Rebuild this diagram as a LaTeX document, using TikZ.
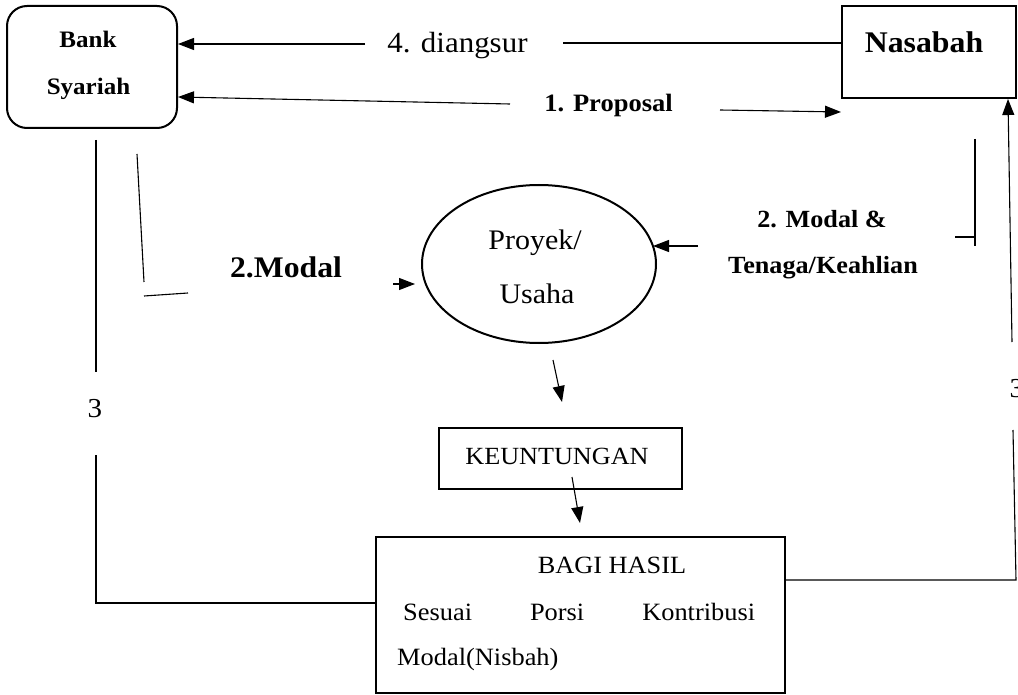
\documentclass[tikz,border=0pt]{standalone}
\usepackage{fontspec}
\setmainfont{Liberation Serif}[FakeStretch=1.06]
\usetikzlibrary{arrows.meta,shapes.geometric}
\begin{document}
\begin{tikzpicture}[x=1pt,y=-1pt,
  conn/.style={line width=1.1pt,black},
  arr/.style={conn,-{Triangle[length=16pt,width=12pt]}},
  box/.style={draw,line width=2pt,inner sep=0pt},
  lbl/.style={anchor=base,inner sep=0pt},
  sz/.style={font=\fontsize{#1}{#1}\selectfont},
  bsz/.style={font=\fontsize{#1}{#1}\selectfont\bfseries}]
\useasboundingbox[fill=white] (0,0) rectangle (1018,695);

% main boxes
\node[box,rounded corners=20pt,minimum width=170pt,minimum height=122pt] (bank) at (92,67) {};
\node[box,minimum width=174pt,minimum height=92pt] (nasabah) at (929,52) {};
\node[box,ellipse,minimum width=234pt,minimum height=158pt] (proyek) at (539,264) {};
\node[box,minimum width=243pt,minimum height=61pt] (untung) at (560.5,458.5) {};
\node[box,minimum width=409pt,minimum height=156pt] (bagi) at (580.5,615) {};

% texts
\node[lbl,bsz=23.6] (bankA) at (88,48) {Bank};
\node[lbl,bsz=23.6] (bankB) at (88.5,95) {Syariah};
\node[lbl,bsz=30] (nasT) at (924,53) {Nasabah};
\node[lbl,sz=29.2] (t4) at (457.5,53) {4. diangsur};
\node[lbl,bsz=25] (t1) at (608.5,112) {1. Proposal};
\node[lbl,sz=28.3] (pA) at (535,250) {Proyek/};
\node[lbl,sz=28.3] (pB) at (537,303) {Usaha};
\node[lbl,bsz=29.9] (m2) at (286,278) {2.Modal};
\node[lbl,bsz=24.7] (mA) at (822,228) {2. Modal \&};
\node[lbl,bsz=24.7] (mB) at (823,274) {Tenaga/Keahlian};
\node[lbl,sz=24.7] (untT) at (557,464) {KEUNTUNGAN};
\node[lbl,sz=24.8] (bagiT) at (612,573) {BAGI HASIL};
\node[lbl,sz=24.9,anchor=base west] (bagiL2) at (403,620) {\hbox to 352pt{Sesuai\hfill Porsi\hfill Kontribusi}};
\node[lbl,sz=24.9,anchor=base west] (bagiL3) at (397,665) {Modal(Nisbah)};
\node[lbl,sz=27.4] (n3l) at (95,417) {3};
\node[lbl,sz=27.4] (n3r) at (1017,397) {3};

% 4. diangsur
\coordinate (a4) at (365,44);
\draw[arr] (a4) -- (a4 -| bank.east);
\coordinate (b4) at (563,43);
\draw[conn] (b4) -- (b4 -| nasabah.west);

% 1. Proposal
\coordinate (a1) at (510,104);
\coordinate (a1t) at (bank.east |- 0,97);
\draw[arr] (a1) -- (a1t);
\coordinate (b1) at (720,110);
\coordinate (b1t) at (nasabah.west |- 0,112);
\draw[arr] (b1) -- (b1t);

% 3 (right side, back to Nasabah)
\coordinate (r1) at (1016,580);
\coordinate (r2) at (1013,430);
\draw[conn] (bagi.east |- r1) -- (r1) -- (r2);
\coordinate (r3) at (1012,342);
\coordinate (r4) at (nasabah.south -| 1008,0);
\draw[arr] (r3) -- (r4);

% 2. Modal & Tenaga/Keahlian
\draw[conn] (975,139) -- (975,246);
\draw[conn] (955,237) -- (976,237);
\coordinate (m2r) at (698,246);
\coordinate (m2rt) at (653,246);
\draw[arr] (m2r) -- (m2rt);

% 2.Modal
\draw[conn] (137,154) -- (144,282);
\draw[conn] (144,296) -- (188,293);
\coordinate (m2l) at (393,284);
\coordinate (m2lt) at (415,284);
\draw[arr] (m2l) -- (m2lt);

% 3 (left side, from Bagi Hasil)
\draw[conn] (96,140) -- (96,372);
\draw[conn] (96,455) -- (96,603) -- (bagi.west |- 0,603);

% Proyek -> Keuntungan -> Bagi Hasil
\coordinate (p1) at (553,360);
\coordinate (p2) at (562,402);
\draw[arr] (p1) -- (p2);
\coordinate (k1) at (572,477);
\coordinate (k2) at (580,523);
\draw[arr] (k1) -- (k2);
\end{tikzpicture}
\end{document}
